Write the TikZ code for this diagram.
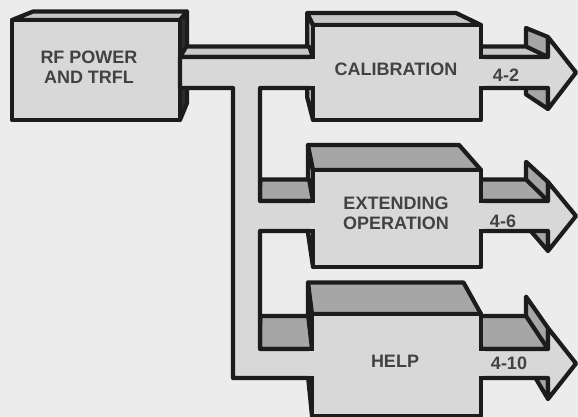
\documentclass[tikz,border=0pt]{standalone}
\usepackage{fontspec}
\setsansfont{Liberation Sans}
\usepackage{tikz}
\definecolor{paper}{HTML}{ECECEC}
\definecolor{inkline}{HTML}{1C1C1C}
\definecolor{facefront}{HTML}{D8D8D8}
\definecolor{facelight}{HTML}{C8C8C8}
\definecolor{facemid}{HTML}{A6A6A6}
\definecolor{faceside}{HTML}{CFCFCF}
\definecolor{facedark}{HTML}{2E2E2E}
\definecolor{labelgray}{HTML}{424242}

\begin{document}
\begin{tikzpicture}[x=1pt, y=-1pt,
		face/.style = {draw=inkline, line width=4.2pt, line join=round},
		frontface/.style = {face, fill=facefront},
		lighttop/.style = {face, fill=facelight},
		darktop/.style = {face, fill=facemid},
		sideface/.style = {face, fill=faceside},
		shadeside/.style = {face, fill=facedark},
		seam/.style = {fill=facefront},
		blocklabel/.style = {font=\sffamily\bfseries\fontsize{18}{20}\selectfont, text=labelgray, align=center, inner sep=0pt}]
		\useasboundingbox[fill=paper] (0,0) rectangle (578,417);
		\begin{scope}
			\draw[lighttop] (12,20) -- (180,20) -- (187,11.5) -- (33.2,11.5) -- cycle;
			\draw[shadeside] (180,20) -- (187,11.5) -- (187,103) -- (180,120) -- cycle;
			\draw[frontface] (12,20) rectangle (180,120);
		\end{scope}
		\begin{scope}
			\draw[sideface] (307.2,13) -- (313,25) -- (313,120) -- (307.2,97.2) -- cycle;
			\draw[sideface] (307.9,145) -- (313,170) -- (313,267) -- (307.9,232.3) -- cycle;
			\draw[sideface] (308,282.5) -- (312,314) -- (312,416) -- (308,376.3) -- cycle;
			\draw[darktop] (526,28) -- (548,37) -- (548,109) -- (526,94.4) -- cycle;
			\draw[darktop] (526,161.8) -- (548,182) -- (548,251) -- (526,225.5) -- cycle;
			\draw[darktop] (526,296.6) -- (548,328) -- (548,399) -- (526,362.1) -- cycle;
			\draw[lighttop] (180,57) -- (313,57) -- (309.1,46.5) -- (186.3,46.5) -- cycle;
			\draw[lighttop] (481,57) -- (548,57) -- (526,46.5) -- (464.1,46.5) -- cycle;
			\draw[darktop] (260,201) -- (313,201) -- (309.1,179.4) -- (260.2,179.4) -- cycle;
			\draw[darktop] (481,201) -- (548,201) -- (526,179.4) -- (464.1,179.4) -- cycle;
			\draw[darktop] (260,349) -- (312,349) -- (308.2,316) -- (260.2,316) -- cycle;
			\draw[darktop] (481,349) -- (548,349) -- (526,316) -- (464.1,316) -- cycle;
			\draw[frontface] (180,57) -- (548,57) -- (548,37) -- (576,72.5) -- (548,109) -- (548,88)
				-- (260,88) -- (260,201) -- (548,201) -- (548,182) -- (576,216) -- (548,251) -- (548,231)
				-- (260,231) -- (260,349) -- (548,349) -- (548,328) -- (576,363.5) -- (548,399) -- (548,378)
				-- (233,378) -- (233,88) -- (180,88) -- cycle;
		\end{scope}
		\begin{scope}
			\draw[lighttop] (313,25) -- (481,25) -- (456,13) -- (307.2,13) -- cycle;
			\draw[frontface] (313,25) rectangle (481,120);
			\draw[darktop] (313,170) -- (481,170) -- (459.1,145) -- (307.9,145) -- cycle;
			\draw[frontface] (313,170) rectangle (481,267);
			\draw[darktop] (312,314) -- (481,314) -- (463.5,282.5) -- (308,282.5) -- cycle;
			\draw[frontface] (312,314) rectangle (481,416);
			\fill[seam] (309.5,59.2) rectangle (316.5,85.8);
			\fill[seam] (477.5,59.2) rectangle (484.5,85.8);
			\fill[seam] (309.5,203.2) rectangle (316.5,228.8);
			\fill[seam] (477.5,203.2) rectangle (484.5,228.8);
			\fill[seam] (308.5,351.2) rectangle (315.5,375.8);
			\fill[seam] (477.5,351.2) rectangle (484.5,375.8);
		\end{scope}
		\begin{scope}[every node/.style = {blocklabel}]
			\node (rf) at (89,67) {RF POWER\\AND TRFL};
			\node (cal) at (396,69) {CALIBRATION};
			\node (ext) at (396,213.5) {EXTENDING\\OPERATION};
			\node (help) at (395,361) {HELP};
			\node (p42) at (506,75) {4-2};
			\node (p46) at (503,221) {4-6};
			\node (p410) at (509,363.5) {4-10};
		\end{scope}
	\end{tikzpicture}
\end{document}
